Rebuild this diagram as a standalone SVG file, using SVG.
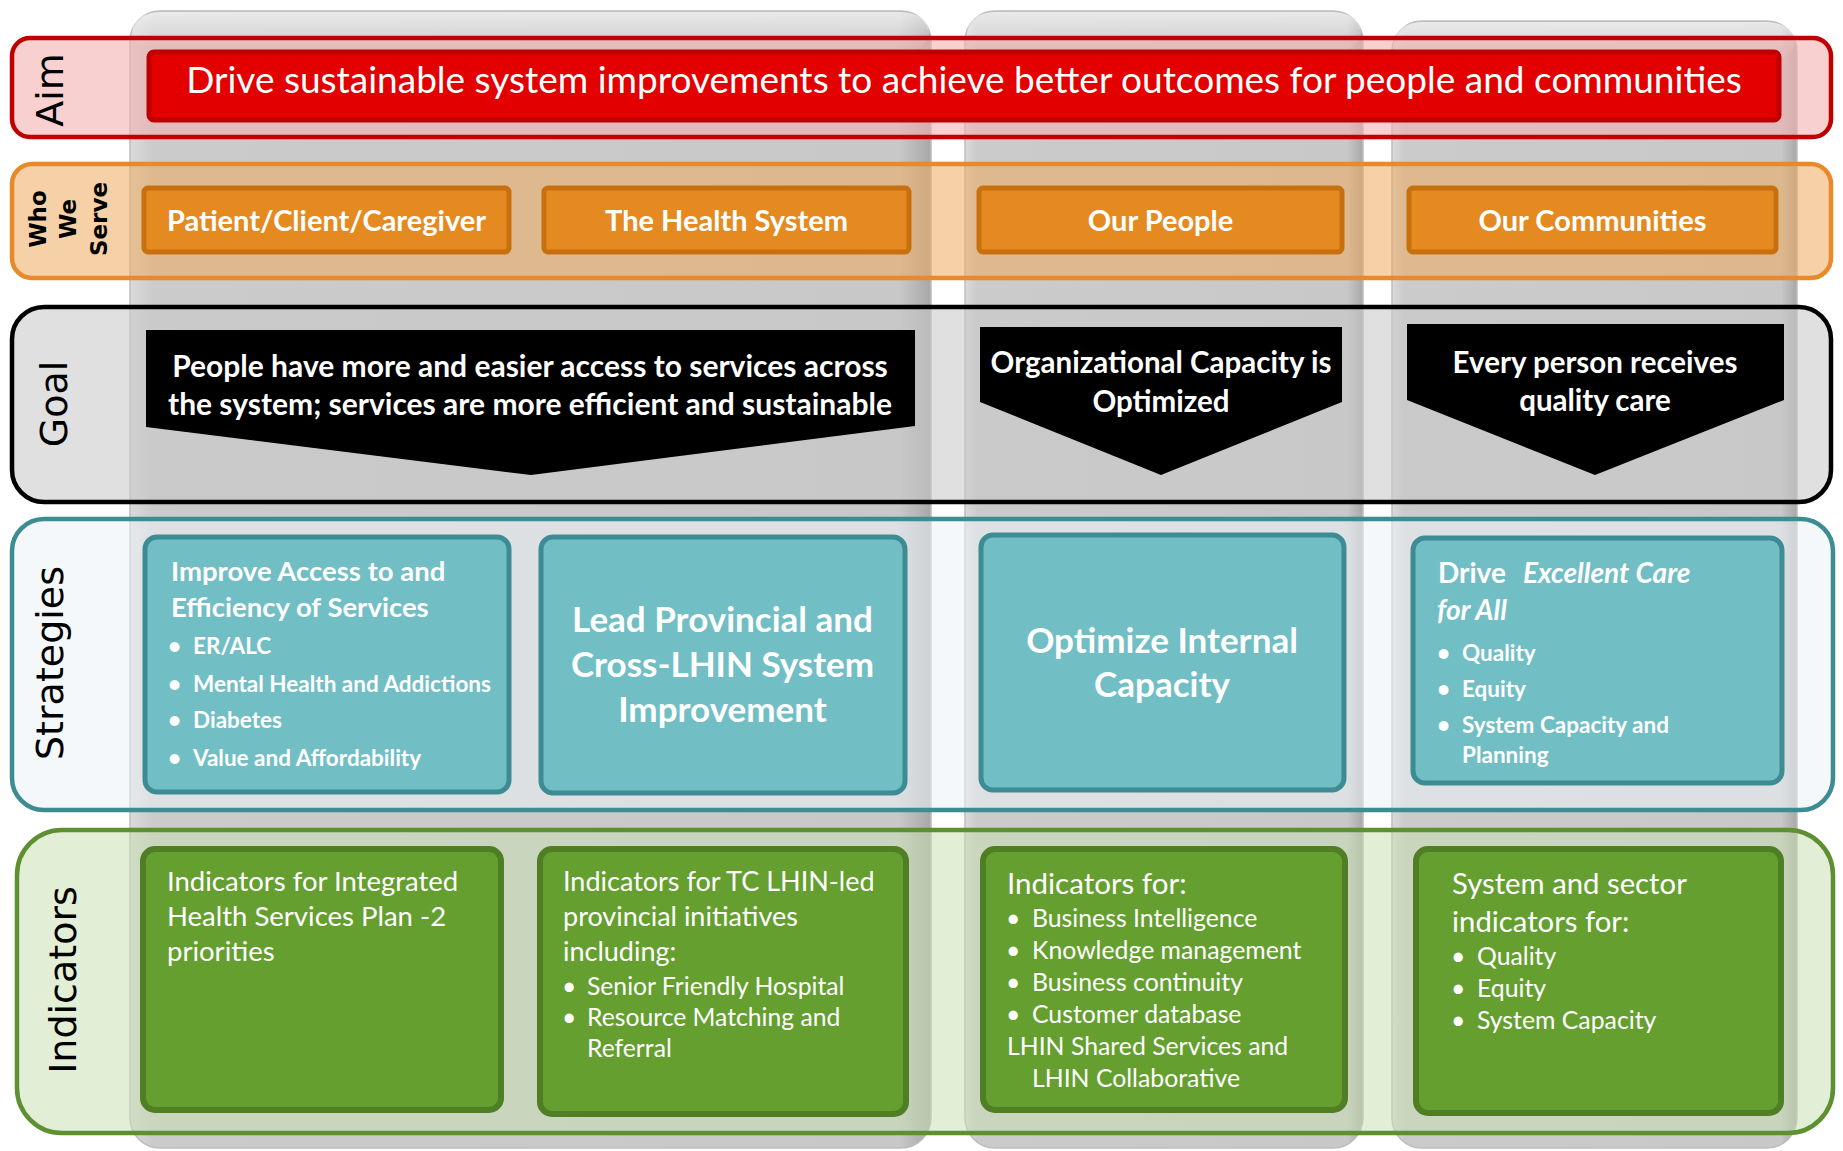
<svg xmlns="http://www.w3.org/2000/svg" width="1843" height="1151" viewBox="0 0 1843 1151">
<defs>
<linearGradient id="colg" x1="0" y1="0" x2="1" y2="0">
<stop offset="0" stop-color="#dadada"/>
<stop offset="0.03" stop-color="#cbcbcb"/>
<stop offset="0.96" stop-color="#c8c8c8"/>
<stop offset="1" stop-color="#a8a8a8"/>
</linearGradient>
<linearGradient id="coltop" x1="0" y1="0" x2="0" y2="1">
<stop offset="0" stop-color="#ffffff" stop-opacity="0.6"/>
<stop offset="1" stop-color="#ffffff" stop-opacity="0"/>
</linearGradient>
</defs>
<style>
.col{fill:url(#colg);stroke:#bdbdbd;stroke-width:1.5}
.band{stroke-width:4.5}
.lab{font-family:"DejaVu Sans",Verdana,sans-serif;font-size:38px;fill:#000;text-anchor:middle}
.labb{font-family:"DejaVu Sans",Verdana,sans-serif;font-size:23px;font-weight:bold;fill:#000;text-anchor:middle}
.t{font-family:Lato,"Open Sans",sans-serif;fill:#fff}
.b{font-weight:bold}
.c{text-anchor:middle}
.red{fill:#e30000;stroke:#c00000;stroke-width:5}
.org{fill:#e58a20;stroke:#c8700e;stroke-width:5}
.arr{fill:#000}
.teal{fill:#72bec5;stroke:#3d8c93;stroke-width:5}
.grn{fill:#659f2f;stroke:#4f7e25;stroke-width:6}
</style>

<g id="columns">
<rect class="col" x="130" y="11" width="801" height="1137" rx="30"/>
<rect class="col" x="965" y="11" width="398" height="1137" rx="30"/>
<rect class="col" x="1392" y="21" width="405" height="1127" rx="30"/>
<rect x="132" y="12" width="797" height="40" rx="28" fill="url(#coltop)"/>
<rect x="967" y="12" width="394" height="40" rx="28" fill="url(#coltop)"/>
<rect x="1394" y="22" width="401" height="40" rx="28" fill="url(#coltop)"/>
</g>

<g id="band-aim">
<rect class="band" x="12" y="38" width="1819" height="99" rx="18" fill="#f5b0b0" fill-opacity="0.6" stroke="#c00000"/>
<text class="lab" transform="translate(63,90) rotate(-90)">Aim</text>
</g>
<g id="band-who">
<rect class="band" x="12" y="164" width="1819" height="114" rx="20" fill="#efaa5d" fill-opacity="0.55" stroke="#e8892a"/>
<text class="labb" transform="translate(46,219) rotate(-90)">Who</text>
<text class="labb" transform="translate(76,219) rotate(-90)">We</text>
<text class="labb" transform="translate(107,219) rotate(-90)">Serve</text>
</g>
<g id="band-goal">
<rect class="band" x="12" y="307" width="1819" height="195" rx="32" fill="#c9c9c9" fill-opacity="0.57" stroke="#000" stroke-width="5"/>
<text class="lab" transform="translate(67,404) rotate(-90)">Goal</text>
</g>
<g id="band-strategies">
<rect class="band" x="12" y="519" width="1821" height="291" rx="32" fill="#ebf2f6" fill-opacity="0.56" stroke="#3d8c93"/>
<text class="lab" transform="translate(63,663) rotate(-90)">Strategies</text>
</g>
<g id="band-indicators">
<rect class="band" x="17" y="830" width="1816" height="303" rx="45" fill="#c7e0b0" fill-opacity="0.52" stroke="#5e8f30" stroke-width="5"/>
<text class="lab" transform="translate(76,980) rotate(-90)">Indicators</text>
</g>

<g id="aim">
<rect class="red" x="149" y="52" width="1630" height="68" rx="5"/>
<text class="t c" x="964" y="93" font-size="37">Drive sustainable system improvements to achieve better outcomes for people and communities</text>
</g>

<g id="who-patient">
<rect class="org" x="144" y="188" width="365" height="64" rx="4"/>
<text class="t b c" x="326.5" y="231" font-size="29">Patient/Client/Caregiver</text>
</g>
<g id="who-health-system">
<rect class="org" x="544" y="188" width="365" height="64" rx="4"/>
<text class="t b c" x="726.5" y="231" font-size="29">The Health System</text>
</g>
<g id="who-people">
<rect class="org" x="979" y="188" width="363" height="64" rx="4"/>
<text class="t b c" x="1160.5" y="231" font-size="29">Our People</text>
</g>
<g id="who-communities">
<rect class="org" x="1409" y="188" width="367" height="64" rx="4"/>
<text class="t b c" x="1592.5" y="231" font-size="29">Our Communities</text>
</g>

<g id="goal-access">
<polygon class="arr" points="146,330 915,330 915,426 531,475 146,427"/>
<text class="t b c" x="530" y="377" font-size="30">People have more and easier access to services across</text>
<text class="t b c" x="530" y="415" font-size="30">the system; services are more efficient and sustainable</text>
</g>
<g id="goal-capacity">
<polygon class="arr" points="980,327 1342,327 1342,402 1161,475 980,402"/>
<text class="t b c" x="1161" y="373" font-size="29.5">Organizational Capacity is</text>
<text class="t b c" x="1161" y="412" font-size="29.5">Optimized</text>
</g>
<g id="goal-quality">
<polygon class="arr" points="1407,324 1784,324 1784,400 1595,475 1407,400"/>
<text class="t b c" x="1595" y="373" font-size="29.5">Every person receives</text>
<text class="t b c" x="1595" y="411" font-size="29.5">quality care</text>
</g>

<g id="strategy-access">
<rect class="teal" x="145" y="537" width="364" height="255" rx="12"/>
<text class="t b" x="171" y="581" font-size="27.5">Improve Access to and</text>
<text class="t b" x="171" y="617" font-size="27.5">Efficiency of Services</text>
<g font-size="22.5">
<text class="t b" x="168" y="654">•</text><text class="t b" x="193" y="654">ER/ALC</text>
<text class="t b" x="168" y="692">•</text><text class="t b" x="193" y="692">Mental Health and Addictions</text>
<text class="t b" x="168" y="728">•</text><text class="t b" x="193" y="728">Diabetes</text>
<text class="t b" x="168" y="766">•</text><text class="t b" x="193" y="766">Value and Affordability</text>
</g>
</g>
<g id="strategy-provincial">
<rect class="teal" x="541" y="537" width="364" height="256" rx="12"/>
<text class="t b c" x="722.5" y="632" font-size="35">Lead Provincial and</text>
<text class="t b c" x="722.5" y="677" font-size="35">Cross-LHIN System</text>
<text class="t b c" x="722.5" y="722" font-size="35">Improvement</text>
</g>
<g id="strategy-internal">
<rect class="teal" x="981" y="535" width="363" height="255" rx="12"/>
<text class="t b c" x="1162" y="653" font-size="35">Optimize Internal</text>
<text class="t b c" x="1162" y="697" font-size="35">Capacity</text>
</g>
<g id="strategy-excellent-care">
<rect class="teal" x="1413" y="538" width="369" height="245" rx="12"/>
<text class="t b" x="1438" y="583" font-size="28">Drive<tspan x="1523" font-style="italic">Excellent Care</tspan></text>
<text class="t b" x="1437" y="620" font-size="28" font-style="italic">for All</text>
<g font-size="22.5">
<text class="t b" x="1437" y="661">•</text><text class="t b" x="1462" y="661">Quality</text>
<text class="t b" x="1437" y="697">•</text><text class="t b" x="1462" y="697">Equity</text>
<text class="t b" x="1437" y="733">•</text><text class="t b" x="1462" y="733">System Capacity and</text>
<text class="t b" x="1462" y="763">Planning</text>
</g>
</g>

<g id="indicator-ihsp">
<rect class="grn" x="143" y="849" width="358" height="261" rx="12"/>
<text class="t" x="167" y="891" font-size="27.5">Indicators for Integrated</text>
<text class="t" x="167" y="926" font-size="27.5">Health Services Plan -2</text>
<text class="t" x="167" y="961" font-size="27.5">priorities</text>
</g>
<g id="indicator-provincial">
<rect class="grn" x="540" y="849" width="366" height="265" rx="12"/>
<text class="t" x="563" y="891" font-size="27">Indicators for TC LHIN-led</text>
<text class="t" x="563" y="926" font-size="27">provincial initiatives</text>
<text class="t" x="563" y="961" font-size="27">including:</text>
<g font-size="24.7">
<text class="t" x="562" y="995">•</text><text class="t" x="587" y="995">Senior Friendly Hospital</text>
<text class="t" x="562" y="1026">•</text><text class="t" x="587" y="1026">Resource Matching and</text>
<text class="t" x="587" y="1057">Referral</text>
</g>
</g>
<g id="indicator-internal">
<rect class="grn" x="983" y="849" width="362" height="261" rx="12"/>
<text class="t" x="1007" y="894" font-size="29.5">Indicators for:</text>
<g font-size="24.8">
<text class="t" x="1006" y="927">•</text><text class="t" x="1032" y="927">Business Intelligence</text>
<text class="t" x="1006" y="959">•</text><text class="t" x="1032" y="959">Knowledge management</text>
<text class="t" x="1006" y="991">•</text><text class="t" x="1032" y="991">Business continuity</text>
<text class="t" x="1006" y="1023">•</text><text class="t" x="1032" y="1023">Customer database</text>
<text class="t" x="1007" y="1055">LHIN Shared Services and</text>
<text class="t" x="1032" y="1087">LHIN Collaborative</text>
</g>
</g>
<g id="indicator-system">
<rect class="grn" x="1416" y="849" width="365" height="264" rx="12"/>
<text class="t" x="1452" y="894" font-size="29.3">System and sector</text>
<text class="t" x="1452" y="932" font-size="29.3">indicators for:</text>
<g font-size="24.8">
<text class="t" x="1451" y="965">•</text><text class="t" x="1477" y="965">Quality</text>
<text class="t" x="1451" y="997">•</text><text class="t" x="1477" y="997">Equity</text>
<text class="t" x="1451" y="1029">•</text><text class="t" x="1477" y="1029">System Capacity</text>
</g>
</g>
</svg>
